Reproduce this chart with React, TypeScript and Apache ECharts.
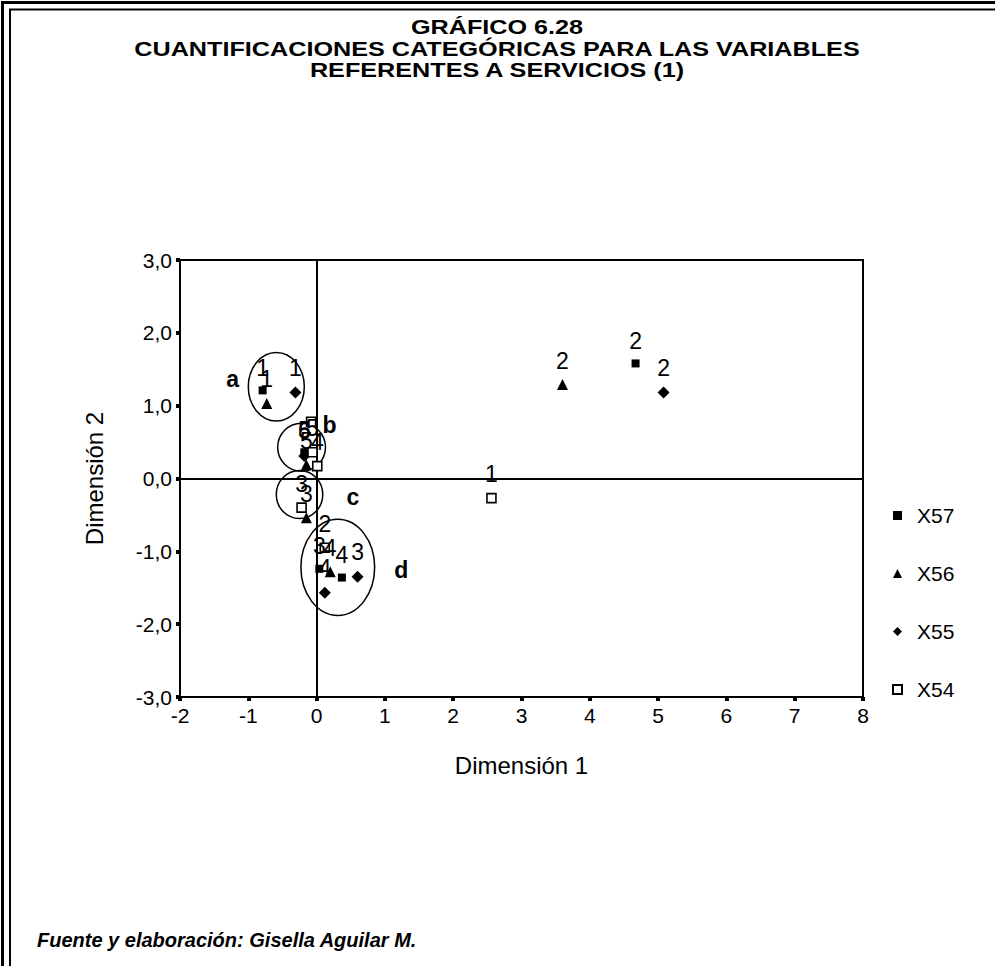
import React, { useEffect, useRef } from "react";
import * as echarts from "echarts";

// ---------- data ----------
const TITLE_LINES = [
  "GRÁFICO 6.28",
  "CUANTIFICACIONES CATEGÓRICAS PARA LAS VARIABLES",
  "REFERENTES A SERVICIOS (1)",
];
const FOOTER = "Fuente y elaboración: Gisella Aguilar M.";
const X_NAME = "Dimensión 1";
const Y_NAME = "Dimensión 2";
const X_MIN = -2;
const X_MAX = 8;
const Y_MIN = -3;
const Y_MAX = 3;

const SERIES_NAMES = ["X57", "X56", "X55", "X54"];

// [dimension 1, dimension 2, category label]
const X57_POINTS: [number, number, string][] = [
  [-0.79, 1.21, "1"],
  [4.67, 1.58, "2"],
  [0.04, -1.24, "3"],
  [0.37, -1.36, "4"],
  [-0.18, 0.36, "5"],
];
const X56_POINTS: [number, number, string][] = [
  [-0.73, 1.03, "1"],
  [3.6, 1.29, "2"],
  [-0.15, -0.54, "3"],
  [0.2, -1.28, "4"],
  [-0.15, 0.19, "5"],
];
const X55_POINTS: [number, number, string][] = [
  [-0.31, 1.18, "1"],
  [5.08, 1.18, "2"],
  [0.6, -1.35, "3"],
  [0.12, -1.57, "4"],
  [-0.18, 0.31, "6"],
];
const X54_POINTS: [number, number, string][] = [
  [2.56, -0.27, "1"],
  [0.12, -0.95, "2"],
  [-0.22, -0.4, "3"],
  [0.01, 0.17, "4"],
  [-0.06, 0.36, "5"],
  [-0.08, 0.78, ""],
];

// groups circled on the chart: [centre x, centre y, radius x, radius y]
const GROUP_ELLIPSES: [number, number, number, number][] = [
  [-0.59, 1.26, 0.41, 0.47],
  [-0.22, 0.43, 0.35, 0.33],
  [-0.25, -0.22, 0.34, 0.33],
  [0.31, -1.22, 0.54, 0.66],
];
// group letters: [x, y, letter]
const GROUP_LETTERS: [number, number, string][] = [
  [-1.23, 1.37, "a"],
  [0.19, 0.73, "b"],
  [0.53, -0.26, "c"],
  [1.24, -1.26, "d"],
];

const FONT = "'Liberation Sans', Arial, Helvetica, sans-serif";

function pointSeries(
  name: string,
  pts: [number, number, string][],
  symbol: string,
  size: number,
  itemStyle: any
) {
  return {
    name,
    type: "scatter",
    data: pts.map((p) => ({ value: [p[0], p[1]], cat: p[2] })),
    symbol,
    symbolSize: size,
    itemStyle: { opacity: 1, ...itemStyle },
    z: 3,
    label: {
      show: true,
      position: "top",
      distance: 7,
      formatter: (p: any) => p.data.cat,
      fontSize: 23,
      fontFamily: FONT,
      color: "#000",
      opacity: 1,
    },
  };
}

export default function App() {
  const ref = useRef<HTMLDivElement>(null);
  useEffect(() => {
    const chart = echarts.init(ref.current!, null, { renderer: "svg" });
    const axisCommon = {
      axisLine: { show: true, onZero: false, lineStyle: { color: "#000", width: 2 } },
      axisTick: { show: true, length: 4, lineStyle: { color: "#000", width: 4 } },
      splitLine: { show: false },
      axisLabel: { color: "#000", fontSize: 21, fontFamily: FONT, margin: 8 },
      nameTextStyle: { color: "#000", fontSize: 24, fontFamily: FONT },
      nameLocation: "middle",
    };
    const titleLineY = [27, 48.5, 70];
    chart.setOption({
      animation: false,
      backgroundColor: "#fff",
      grid: {
        left: 180,
        top: 260,
        width: 683,
        height: 437,
        show: true,
        borderColor: "#000",
        borderWidth: 2,
        backgroundColor: "transparent",
      },
      xAxis: {
        ...axisCommon,
        type: "value",
        min: X_MIN,
        max: X_MAX,
        interval: 1,
        name: X_NAME,
        nameGap: 56,
      },
      yAxis: {
        ...axisCommon,
        type: "value",
        min: Y_MIN,
        max: Y_MAX,
        interval: 1,
        name: Y_NAME,
        nameGap: 74,
        axisLabel: {
          ...axisCommon.axisLabel,
          formatter: (v: number) => v.toFixed(1).replace(".", ","),
        },
      },
      legend: {
        data: SERIES_NAMES,
        orient: "vertical",
        left: 887,
        top: 500,
        itemWidth: 9,
        itemHeight: 9,
        itemGap: 37,
        textStyle: { fontSize: 21, fontFamily: FONT, color: "#000", padding: [0, 0, 0, 10] },
      },
      graphic: [
        {
          type: "rect",
          shape: { x: 2.5, y: 2.5, width: 1200, height: 1200 },
          style: { fill: "none", stroke: "#000", lineWidth: 3 },
          silent: true,
        },
        {
          type: "rect",
          shape: { x: 10, y: 9.5, width: 1200, height: 1200 },
          style: { fill: "none", stroke: "#000", lineWidth: 2 },
          silent: true,
        },
        ...TITLE_LINES.map((t, i) => ({
          type: "text",
          x: 497,
          y: titleLineY[i],
          scaleX: 1.2,
          style: {
            text: t,
            font: `bold 21px ${FONT}`,
            fill: "#000",
            align: "center",
            verticalAlign: "middle",
          },
          silent: true,
        })),
        {
          type: "text",
          x: 37,
          y: 940,
          style: {
            text: FOOTER,
            font: `italic bold 20px ${FONT}`,
            fill: "#000",
            verticalAlign: "middle",
          },
          silent: true,
        },
      ],
      series: [
        {
          ...pointSeries("X57", X57_POINTS, "rect", 8, { color: "#000" }),
          markLine: {
            silent: true,
            symbol: ["none", "none"],
            label: { show: false },
            lineStyle: { color: "#000", type: "solid", width: 2, opacity: 1 },
            data: [{ xAxis: 0 }, { yAxis: 0 }],
            z: 1,
          },
        },
        pointSeries("X56", X56_POINTS, "triangle", 11, { color: "#000" }),
        pointSeries("X55", X55_POINTS, "diamond", 12, { color: "#000" }),
        pointSeries("X54", X54_POINTS, "rect", 9, {
          color: "#fff",
          borderColor: "#000",
          borderWidth: 1.6,
        }),
        {
          type: "custom",
          name: "groups",
          data: GROUP_ELLIPSES,
          z: 2,
          silent: true,
          renderItem: (params: any, api: any) => {
            const c = api.coord([api.value(0), api.value(1)]);
            const s = api.size([api.value(2), api.value(3)]);
            return {
              type: "ellipse",
              shape: { cx: c[0], cy: c[1], rx: s[0], ry: s[1] },
              style: { fill: "none", stroke: "#000", lineWidth: 1.5 },
            };
          },
        },
        {
          type: "custom",
          name: "letters",
          data: GROUP_LETTERS,
          z: 2,
          silent: true,
          renderItem: (params: any, api: any) => {
            const c = api.coord([api.value(0), api.value(1)]);
            return {
              type: "text",
              x: c[0],
              y: c[1],
              style: {
                text: GROUP_LETTERS[params.dataIndex][2],
                font: `bold 23px ${FONT}`,
                fill: "#000",
                align: "center",
                verticalAlign: "middle",
              },
            };
          },
        },
      ],
    });
    return () => chart.dispose();
  }, []);
  return (
    <div
      ref={ref}
      style={{ position: "absolute", left: 0, top: 0, width: 995, height: 966, background: "#fff" }}
    />
  );
}
